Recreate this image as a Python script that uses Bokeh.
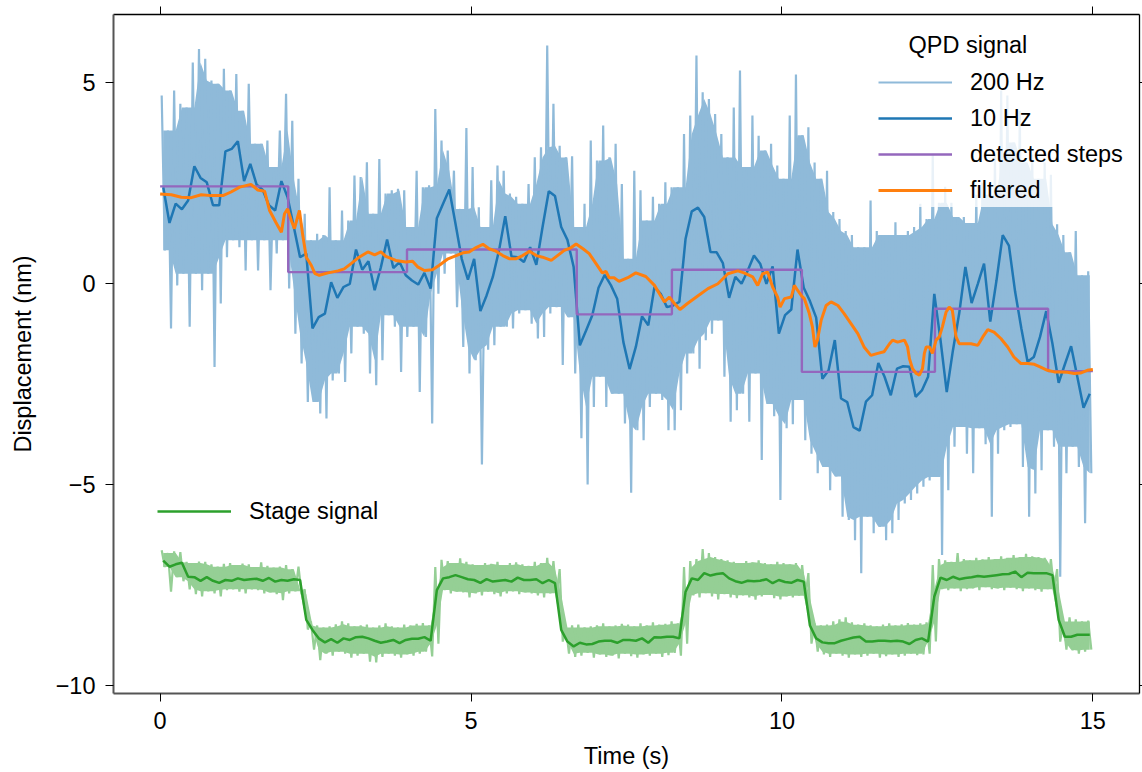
import numpy as np
from bokeh.plotting import figure
from bokeh.models import (Legend, LegendItem, Label, LinearAxis, Range1d,
                          FixedTicker, CustomJSTickFormatter, BoxAnnotation)
from bokeh.embed import file_html
from bokeh.resources import INLINE

# ---------------- data ----------------
# 10 Hz samples: bin centres 0.05 ... 14.95 s
t10 = np.round(0.05 + 0.1 * np.arange(150), 3)

qpd_10hz = [
    2.39, 1.50, 1.98, 1.84, 2.06, 2.91, 2.62, 2.51, 1.94, 1.94,
    3.28, 3.34, 3.53, 2.54, 2.97, 2.46, 2.32, 1.94, 1.81, 2.54,
    2.14, 1.40, 0.65, 0.74, -1.12, -0.84, -0.75, 0.03, -0.36, -0.09,
    -0.01, 0.84, 0.34, 0.55, -0.17, 0.40, 1.09, 0.38, 0.53, 0.20,
    0.07, -0.03, 0.26, -0.13, 1.62, 1.98, 2.33, 1.48, 0.61, 0.09,
    0.61, -0.69, -0.30, 0.16, 0.82, 1.67, 0.67, 0.65, 0.53, 0.90,
    0.46, 1.40, 2.29, 2.17, 1.40, 1.08, 0.41, -1.54, -1.17, -0.79,
    -0.11, 0.21, -0.05, -0.38, -1.46, -2.13, -1.58, -0.82, -1.04, -0.09,
    -0.26, -0.59, -0.55, -0.46, 1.11, 1.79, 1.88, 1.65, 0.78, 0.77,
    0.50, -0.36, 0.16, -0.01, 0.32, 0.69, 0.49, -0.01, 0.42, -1.25,
    -0.79, -0.65, 0.84, -0.11, -0.44, -0.85, -2.37, -2.16, -1.41, -2.86,
    -2.95, -3.57, -3.66, -2.94, -2.78, -1.98, -2.32, -2.78, -2.12, -2.06,
    -2.07, -2.82, -2.66, -2.32, -0.26, -1.41, -2.70, -1.66, -0.75, 0.41,
    -0.49, -0.01, 0.49, -0.95, 0.07, 1.20, 0.94, -0.21, -1.12, -1.95,
    -1.83, -1.33, -0.69, -1.50, -2.47, -2.01, -1.56, -2.32, -3.09, -2.74]

# 200 Hz QPD signal: upper and lower excursion within each 0.1 s bin
qpd_200_hi = [
    4.67, 3.80, 4.79, 4.46, 4.37, 5.49, 5.82, 5.58, 5.04, 4.96,
    5.33, 4.79, 5.20, 4.29, 4.96, 3.47, 3.47, 3.55, 2.89, 3.80,
    4.71, 4.04, 2.60, 1.73, 1.07, 1.23, 1.20, 2.39, 1.07, 1.81,
    1.56, 2.68, 2.64, 3.01, 1.73, 3.09, 2.23, 2.31, 2.35, 2.31,
    1.40, 2.80, 2.39, 2.44, 4.33, 3.55, 3.30, 2.80, 1.85, 3.86,
    2.89, 1.89, 1.40, 2.56, 2.93, 2.80, 2.23, 2.15, 1.98, 2.47,
    3.13, 3.38, 5.91, 4.46, 3.42, 3.13, 3.16, 1.40, 1.98, 3.55,
    3.05, 3.92, 3.13, 3.47, 2.47, 0.61, 2.80, 2.31, 1.56, 2.15,
    1.98, 2.51, 2.39, 2.39, 3.71, 4.17, 5.66, 4.75, 4.58, 4.21,
    3.71, 3.13, 4.37, 5.29, 2.89, 4.17, 3.67, 3.30, 3.47, 2.93,
    2.60, 4.17, 5.19, 3.68, 3.88, 3.00, 2.60, 2.80, 1.77, 1.60,
    1.30, 1.20, 0.90, 0.90, 2.06, 1.30, 1.20, 1.20, 1.52, 1.20,
    1.30, 1.40, 1.98, 1.60, 3.22, 2.00, 2.40, 2.00, 1.65, 1.65,
    1.50, 2.20, 2.50, 2.20, 3.20, 4.79, 4.67, 3.50, 4.29, 3.00,
    3.20, 2.60, 3.00, 2.70, 1.47, 1.20, 0.77, 1.30, 0.20, 0.30]
qpd_200_lo = [
    0.82, -1.12, -0.05, 0.24, -1.08, 0.24, -0.17, 0.24, -2.08, -0.50,
    0.65, 1.07, 0.90, 0.32, 1.07, 0.32, 1.07, -0.17, 0.74, 1.07,
    -0.13, -1.25, -1.99, -2.95, -2.95, -3.23, -3.36, -2.41, -2.24, -2.45,
    -1.74, -1.08, -1.25, -2.24, -2.53, -1.91, -0.79, -1.08, -2.20, -1.33,
    -1.08, -2.70, -1.33, -3.48, -0.26, 0.24, 0.74, -0.59, -1.58, -2.24,
    -1.91, -4.50, -1.65, -1.54, -1.08, -1.08, -1.12, -0.75, -0.67, -1.00,
    -1.37, -1.33, -0.75, -0.59, -2.03, -0.84, -2.24, -3.85, -5.00, -3.07,
    -2.32, -3.07, -2.74, -2.74, -3.48, -5.20, -3.65, -3.90, -3.07, -2.74,
    -2.90, -3.65, -3.65, -3.15, -2.24, -1.74, -2.12, -1.41, -1.25, -0.92,
    -2.32, -3.44, -3.15, -2.74, -3.44, -2.24, -4.39, -3.00, -3.30, -5.38,
    -3.60, -3.50, -2.90, -3.90, -4.23, -4.72, -4.56, -5.14, -4.80, -5.80,
    -5.88, -6.38, -7.20, -5.80, -6.21, -6.05, -6.38, -6.21, -5.88, -5.47,
    -5.38, -5.22, -5.05, -4.90, -4.81, -6.75, -5.14, -4.06, -3.57, -4.23,
    -4.72, -3.60, -4.00, -5.80, -4.23, -3.65, -3.57, -3.50, -4.56, -5.80,
    -5.22, -4.64, -3.65, -4.06, -7.29, -4.72, -4.06, -4.56, -5.96, -4.72]

# filtered QPD trace (time, value)
filt_t = [
    0.00, 0.18, 0.34, 0.50, 0.66, 0.82, 1.01, 1.14, 1.28, 1.46, 1.57, 1.68,
    1.76, 1.86, 1.95, 2.00, 2.05, 2.11, 2.16, 2.24, 2.29, 2.35, 2.43, 2.49,
    2.56, 2.70, 2.86, 2.96, 3.07, 3.20, 3.34, 3.45, 3.55, 3.63, 3.79, 3.95,
    4.06, 4.14, 4.25, 4.38, 4.49, 4.63, 4.76, 4.87, 4.97, 5.08, 5.19, 5.29,
    5.40, 5.51, 5.62, 5.72, 5.83, 5.94, 6.05, 6.15, 6.29, 6.39, 6.50, 6.61,
    6.69, 6.80, 6.90, 7.01, 7.11, 7.17, 7.22, 7.30, 7.38, 7.52, 7.65, 7.81,
    7.95, 8.03, 8.11, 8.19, 8.27, 8.36, 8.48, 8.64, 8.81, 8.97, 9.13, 9.29,
    9.39, 9.53, 9.61, 9.69, 9.77, 9.85, 9.93, 9.97, 10.04, 10.15, 10.20,
    10.25, 10.31, 10.36, 10.44, 10.49, 10.53, 10.57, 10.63, 10.71, 10.79,
    10.90, 11.00, 11.11, 11.22, 11.32, 11.43, 11.54, 11.64, 11.73, 11.78,
    11.86, 11.97, 12.02, 12.05, 12.10, 12.16, 12.21, 12.26, 12.29, 12.32,
    12.37, 12.42, 12.48, 12.53, 12.58, 12.64, 12.69, 12.74, 12.80, 12.85,
    12.93, 13.04, 13.15, 13.23, 13.31, 13.41, 13.52, 13.63, 13.73, 13.84,
    13.95, 14.06, 14.16, 14.27, 14.38, 14.48, 14.59, 14.70, 14.80, 14.91,
    15.00]
filt_v = [
    2.22, 2.20, 2.14, 2.13, 2.20, 2.18, 2.18, 2.27, 2.39, 2.46, 2.32, 2.29,
    1.81, 1.52, 1.27, 1.73, 1.85, 1.56, 1.36, 1.81, 1.23, 0.65, 0.45, 0.24,
    0.20, 0.26, 0.31, 0.36, 0.49, 0.65, 0.78, 0.71, 0.78, 0.67, 0.57, 0.53,
    0.55, 0.41, 0.32, 0.34, 0.45, 0.61, 0.69, 0.76, 0.78, 0.89, 0.97, 0.86,
    0.80, 0.69, 0.61, 0.61, 0.69, 0.80, 0.69, 0.65, 0.57, 0.69, 0.82, 0.89,
    0.98, 0.86, 0.74, 0.49, 0.26, 0.30, 0.14, 0.14, 0.05, 0.14, 0.26, 0.17,
    -0.05, -0.26, -0.46, -0.34, -0.50, -0.65, -0.50, -0.32, -0.13, -0.01, 0.24, 0.31,
    0.26, 0.16, -0.05, 0.24, 0.28, -0.09, -0.34, -0.59, -0.38, -0.34, -0.05,
    -0.17, -0.30, -0.38, -0.75, -1.08, -1.58, -1.41, -0.92, -0.55, -0.46,
    -0.55, -0.75, -1.00, -1.25, -1.58, -1.79, -1.74, -1.70, -1.50, -1.41,
    -1.46, -1.41, -1.58, -1.87, -2.12, -2.24, -2.28, -2.12, -1.74, -1.58,
    -1.58, -1.74, -1.41, -1.33, -1.08, -0.71, -0.59, -0.67, -1.33, -1.50,
    -1.50, -1.50, -1.54, -1.33, -1.15, -1.21, -1.37, -1.58, -1.83, -1.99,
    -1.99, -2.01, -2.08, -2.16, -2.20, -2.20, -2.21, -2.24, -2.23, -2.16,
    -2.14]

# detected steps: edges (s) and plateau levels (nm)
step_edges = [0.0, 2.06, 3.97, 6.70, 8.23, 10.32, 12.46, 14.28, 15.0]
step_levels = [2.41, 0.28, 0.84, -0.77, 0.34, -2.20, -0.63, -2.18]

# stage signal, 10 Hz
stage_10hz = [
    -6.89, -7.04, -6.98, -6.94, -7.29, -7.30, -7.39, -7.30, -7.39, -7.44,
    -7.37, -7.39, -7.33, -7.37, -7.35, -7.34, -7.39, -7.32, -7.41, -7.37,
    -7.39, -7.35, -7.37, -8.36, -8.61, -8.82, -8.92, -8.84, -8.93, -8.82,
    -8.86, -8.79, -8.78, -8.82, -8.88, -8.93, -8.90, -8.86, -8.94, -8.86,
    -8.83, -8.83, -8.79, -8.88, -7.62, -7.33, -7.30, -7.25, -7.30, -7.35,
    -7.37, -7.44, -7.35, -7.41, -7.39, -7.37, -7.41, -7.31, -7.37, -7.37,
    -7.35, -7.45, -7.37, -7.45, -8.61, -8.90, -9.02, -8.93, -8.97, -8.96,
    -8.90, -8.88, -8.88, -8.93, -8.86, -8.86, -8.88, -8.82, -8.93, -8.79,
    -8.80, -8.78, -8.78, -8.82, -7.66, -7.33, -7.37, -7.20, -7.26, -7.22,
    -7.20, -7.33, -7.40, -7.44, -7.39, -7.40, -7.39, -7.35, -7.45, -7.37,
    -7.42, -7.44, -7.37, -7.41, -8.50, -8.82, -8.92, -8.94, -8.94, -8.88,
    -8.84, -8.80, -8.78, -8.90, -8.90, -8.88, -8.88, -8.89, -8.88, -8.90,
    -8.96, -8.86, -8.82, -8.90, -7.78, -7.31, -7.37, -7.29, -7.35, -7.32,
    -7.30, -7.27, -7.29, -7.27, -7.25, -7.23, -7.22, -7.16, -7.30, -7.19,
    -7.20, -7.20, -7.20, -7.25, -8.36, -8.78, -8.78, -8.73, -8.73, -8.73]

# stage signal, 200 Hz: upper / lower excursion within each 0.1 s bin
stage_200_hi = [
    -6.63, -6.70, -6.66, -6.68, -6.92, -6.95, -6.91, -6.92, -6.98, -7.04,
    -6.97, -6.95, -7.00, -6.96, -6.98, -7.05, -6.93, -7.02, -7.06, -7.04,
    -7.00, -7.10, -7.04, -7.60,
    -8.40, -8.50, -8.55, -8.52, -8.47, -8.40, -8.45, -8.52, -8.50, -8.48,
    -8.55, -8.50, -8.45, -8.52, -8.55, -8.48, -8.50, -8.46, -8.44, -8.50,
    -7.05,
    -6.87, -6.90, -6.95, -6.83, -6.92, -6.98, -7.00, -6.95, -6.97, -6.92,
    -7.00, -6.95, -6.93, -6.98, -7.02, -6.92, -6.95, -6.82, -6.90,
    -7.10,
    -8.55, -8.50, -8.48, -8.55, -8.52, -8.50, -8.45, -8.52, -8.50, -8.46,
    -8.48, -8.52, -8.45, -8.50, -8.42, -8.48, -8.46, -8.40, -8.45,
    -7.05,
    -6.90, -6.85, -6.60, -6.70, -6.80, -6.85, -6.88, -6.92, -6.95, -6.90,
    -6.93, -6.88, -6.95, -6.98, -6.92, -6.95, -6.98, -6.95, -7.00,
    -7.20,
    -8.45, -8.50, -8.48, -8.40, -8.35, -8.30, -8.42, -8.48, -8.45, -8.50,
    -8.52, -8.48, -8.45, -8.50, -8.47, -8.44, -8.48, -8.45, -8.42,
    -7.00,
    -6.85, -6.88, -6.92, -6.70, -6.85, -6.88, -6.82, -6.86, -6.80, -6.85,
    -6.78, -6.82, -6.75, -6.80, -6.72, -6.78, -6.80, -6.82, -6.85,
    -7.10,
    -8.40, -8.30, -8.35, -8.40, -8.38]
stage_200_lo = [
    -7.05, -7.66, -7.30, -7.40, -7.60, -7.72, -7.78, -7.65, -7.70, -7.78,
    -7.62, -7.60, -7.66, -7.70, -7.60, -7.62, -7.70, -7.68, -7.72, -7.87,
    -7.70, -7.65, -7.72, -8.60,
    -9.10, -9.36, -9.20, -9.25, -9.15, -9.20, -9.30, -9.25, -9.20, -9.40,
    -9.42, -9.28, -9.20, -9.25, -9.30, -9.22, -9.25, -9.20, -9.15, -9.27,
    -8.95,
    -7.62, -7.70, -7.66, -7.68, -7.80, -7.70, -7.75, -7.66, -7.72, -7.78,
    -7.70, -7.65, -7.72, -7.68, -7.70, -7.75, -7.80, -7.70, -7.74,
    -8.90,
    -9.20, -9.28, -9.25, -9.18, -9.30, -9.22, -9.28, -9.25, -9.32, -9.20,
    -9.26, -9.30, -9.22, -9.25, -9.20, -9.28, -9.24, -9.18, -9.25,
    -8.95,
    -7.75, -7.80, -7.70, -7.78, -7.85, -7.72, -7.80, -7.82, -7.75, -7.80,
    -7.86, -7.78, -7.74, -7.82, -7.85, -7.78, -7.80, -7.76, -7.82,
    -8.95,
    -9.15, -9.22, -9.28, -9.20, -9.25, -9.30, -9.22, -9.28, -9.25, -9.20,
    -9.30, -9.26, -9.22, -9.28, -9.25, -9.20, -9.24, -9.22, -9.20,
    -8.90,
    -7.60, -7.62, -7.58, -7.65, -7.60, -7.58, -7.62, -7.55, -7.60, -7.58,
    -7.62, -7.56, -7.60, -7.65, -7.58, -7.62, -7.66, -7.60, -7.62,
    -8.90,
    -9.10, -9.12, -9.20, -9.15, -9.10]

x_ticks = [0, 5, 10, 15]
y_ticks = [-10, -5, 0, 5]

# ---------------- derived drawing arrays ----------------
t200 = np.empty(2 * len(t10))
t200[0::2] = t10 - 0.025
t200[1::2] = t10 + 0.025


def zigzag(hi, lo):
    hi, lo = np.asarray(hi, float), np.asarray(lo, float)
    z = np.empty(2 * len(hi))
    z[0::2], z[1::2] = hi, lo
    # dense core: range shared by a bin and both of its neighbours
    hp = np.concatenate([[hi[0]], hi[:-1]])
    hn = np.concatenate([hi[1:], [hi[-1]]])
    lp = np.concatenate([[lo[0]], lo[:-1]])
    ln = np.concatenate([lo[1:], [lo[-1]]])
    core_hi = np.minimum(np.minimum(hp, hi), hn)
    core_lo = np.maximum(np.maximum(lp, lo), ln)
    return z, np.maximum(core_hi, core_lo), np.minimum(core_hi, core_lo)


qpd200, qpd_top, qpd_bot = zigzag(qpd_200_hi, qpd_200_lo)
stage200, st_top, st_bot = zigzag(stage_200_hi, stage_200_lo)

step_x, step_y = [], []
for i, lev in enumerate(step_levels):
    step_x += [step_edges[i], step_edges[i + 1]]
    step_y += [lev, lev]

FONT = "Liberation Sans"
FS = "23.5px"

p = figure(width=1142, height=772,
           x_range=Range1d(-0.75, 15.75), y_range=Range1d(-10.19, 6.68),
           output_backend="svg", toolbar_location=None,
           min_border_left=113, min_border_right=3,
           min_border_top=14, min_border_bottom=79)
p.outline_line_color = None
p.xgrid.visible = False
p.ygrid.visible = False

BLUE, ORANGE, PURPLE, GREEN = "#1f77b4", "#ff7f0e", "#9467bd", "#2ca02c"
LIGHT_BLUE, LIGHT_GREEN = "#8fbad9", "#95cf95"

p.varea(t10, qpd_bot, qpd_top, fill_color=LIGHT_BLUE)
r200 = p.line(t200, qpd200, line_color=LIGHT_BLUE, line_width=2.2)
r10 = p.line(t10, qpd_10hz, line_color=BLUE, line_width=2.5)
rst = p.line(step_x, step_y, line_color=PURPLE, line_width=2.4)
rfi = p.line(filt_t, filt_v, line_color=ORANGE, line_width=3)
p.varea(t10, st_bot, st_top, fill_color=LIGHT_GREEN)
rg200 = p.line(t200, stage200, line_color=LIGHT_GREEN, line_width=2.2)
rg10 = p.line(t10, stage_10hz, line_color=GREEN, line_width=2.5)

minus_fmt = CustomJSTickFormatter(
    code="return tick < 0 ? '\u2212' + Math.abs(tick) : String(tick);")
blank_fmt = CustomJSTickFormatter(code="return '';")

for ax, ticks in ((p.xaxis[0], x_ticks), (p.yaxis[0], y_ticks)):
    ax.ticker = FixedTicker(ticks=ticks)
    ax.formatter = minus_fmt
    ax.minor_tick_line_color = None
    ax.major_tick_in = 0
    ax.major_tick_out = 8
    ax.major_tick_line_color = "black"
    ax.major_tick_line_width = 1
    ax.axis_line_color = "#555555"
    ax.axis_line_width = 2
    ax.major_label_text_font = FONT
    ax.major_label_text_font_size = FS
    ax.major_label_text_color = "black"
    ax.major_label_standoff = 10
    ax.axis_label_text_font = FONT
    ax.axis_label_text_font_size = FS
    ax.axis_label_text_font_style = "normal"
    ax.axis_label_text_color = "black"

p.xaxis[0].axis_label = "Time (s)"
p.xaxis[0].axis_label_standoff = 11
p.yaxis[0].axis_label = "Displacement (nm)"
p.yaxis[0].axis_label_standoff = 17

top = LinearAxis(ticker=FixedTicker(ticks=x_ticks), formatter=blank_fmt)
right = LinearAxis(ticker=FixedTicker(ticks=y_ticks), formatter=blank_fmt)
for ax, out in ((top, 8), (right, 3)):
    ax.minor_tick_line_color = None
    ax.major_tick_in = 0
    ax.major_tick_out = out
    ax.major_tick_line_color = "black"
    ax.axis_line_color = "black"
    ax.axis_line_width = 1.3
    ax.major_label_text_font_size = "0px"
    ax.major_label_standoff = 0
p.add_layout(top, "above")
p.add_layout(right, "right")

# translucent backdrop of the QPD legend, then its title
p.add_layout(BoxAnnotation(left=11.48, right=15.7, bottom=1.9, top=6.58,
                           fill_color="white", fill_alpha=0.8,
                           line_color=None))
p.add_layout(Label(x=12.99, y=5.91, text="QPD signal", text_align="center",
                   text_baseline="middle", text_font=FONT,
                   text_font_size=FS, text_color="black"))

common = dict(label_text_font=FONT, label_text_font_size=FS,
              label_text_color="black", glyph_width=74, glyph_height=36,
              spacing=0, label_standoff=18, padding=5, margin=0,
              border_line_color=None, background_fill_alpha=0.0)

leg1 = Legend(items=[LegendItem(label="200 Hz", renderers=[r200]),
                     LegendItem(label="10 Hz", renderers=[r10]),
                     LegendItem(label="detected steps", renderers=[rst]),
                     LegendItem(label="filtered", renderers=[rfi])],
              location=(765, 485), **common)
p.add_layout(leg1)

leg2 = Legend(items=[LegendItem(label="Stage signal", renderers=[rg10])],
              location=(44, 164), **common)
p.add_layout(leg2)

open("out.html", "w").write(file_html(p, INLINE))
